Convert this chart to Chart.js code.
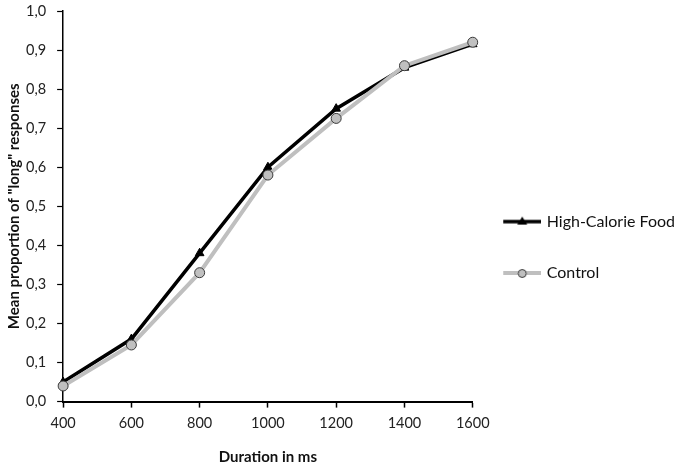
<!DOCTYPE html>
<html>
<head>
<meta charset="utf-8">
<script src="https://cdn.jsdelivr.net/npm/chart.js@4/dist/chart.umd.min.js"></script>
<style>
  html, body { margin: 0; padding: 0; background: #fff; }
  #wrap { width: 685px; height: 472px; }
</style>
</head>
<body>
<div id="wrap"><canvas id="myChart" width="685" height="472"></canvas></div>
<script>
// durations (ms)
const durations = ['400', '600', '800', '1000', '1200', '1400', '1600'];
// mean proportion of "long" responses
const highCalorie = [0.05, 0.16, 0.38, 0.60, 0.75, 0.855, 0.915];
const control = [0.04, 0.145, 0.33, 0.58, 0.725, 0.86, 0.92];

const FONT = 'Lato, "Open Sans", sans-serif';

// legend samples: line + marker, drawn once on small canvases
function legendSample(kind) {
    const c = document.createElement('canvas');
    c.width = 50;
    c.height = 14;
    const g = c.getContext('2d');
    g.lineCap = 'butt';
    if (kind === 'hcf') {
        g.strokeStyle = '#000';
        g.lineWidth = 3.5;
        g.beginPath(); g.moveTo(12, 7); g.lineTo(50, 7); g.stroke();
        g.fillStyle = '#000';
        g.beginPath(); g.moveTo(31, 2); g.lineTo(36, 10); g.lineTo(26, 10); g.closePath(); g.fill();
    } else {
        g.strokeStyle = '#bfbfbf';
        g.lineWidth = 4;
        g.beginPath(); g.moveTo(12, 7); g.lineTo(50, 7); g.stroke();
        g.fillStyle = '#bfbfbf';
        g.strokeStyle = '#404040';
        g.lineWidth = 1;
        g.beginPath(); g.arc(31, 7.5, 4, 0, Math.PI * 2); g.fill(); g.stroke();
    }
    return c;
}

const ctx = document.getElementById('myChart').getContext('2d');
const chart = new Chart(ctx, {
    type: 'line',
    data: {
        labels: durations,
        datasets: [
            {
                label: 'High-Calorie Food',
                data: highCalorie,
                borderColor: '#000',
                backgroundColor: '#000',
                borderWidth: 3.5,
                pointStyle: 'triangle',
                pointRadius: 5,
                pointBackgroundColor: '#000',
                pointBorderColor: '#000',
                pointBorderWidth: 1,
                tension: 0,
                order: 1
            },
            {
                label: 'Control',
                data: control,
                borderColor: '#bfbfbf',
                backgroundColor: '#bfbfbf',
                borderWidth: 4,
                pointStyle: 'circle',
                pointRadius: 5,
                pointBackgroundColor: '#c0c0c0',
                pointBorderColor: '#3a3a3a',
                pointBorderWidth: 1,
                tension: 0,
                order: 0
            }
        ]
    },
    options: {
        responsive: false,
        animation: false,
        layout: { autoPadding: false, padding: { top: 11, bottom: 6, left: 5, right: 0 } },
        scales: {
            x: {
                offset: false,
                grid: { display: true, drawOnChartArea: false, tickLength: 6, color: '#000', tickWidth: 1.5 },
                border: { display: true, color: '#000', width: 2 },
                ticks: { color: '#222', padding: 7, font: { family: FONT, size: 14.5 }, maxRotation: 0 },
                title: {
                    display: true,
                    text: 'Duration in ms',
                    color: '#111',
                    font: { family: FONT, size: 15, weight: 'bold' },
                    padding: { top: 9, bottom: 0 }
                }
            },
            y: {
                min: 0,
                max: 1,
                afterFit: s => { s.width -= 8; s.paddingTop = 0; },
                grid: { display: true, drawOnChartArea: false, tickLength: 6, color: '#000', tickWidth: 1.2 },
                border: { display: true, color: '#000', width: 1.5 },
                ticks: {
                    stepSize: 0.1,
                    color: '#222',
                    padding: 11,
                    font: { family: FONT, size: 14.5 },
                    callback: v => v.toFixed(1).replace('.', ',')
                },
                title: {
                    display: true,
                    text: 'Mean proportion of "long" responses',
                    color: '#111',
                    font: { family: FONT, size: 15, weight: 'bold' },
                    padding: { top: 0, bottom: 0 }
                }
            }
        },
        plugins: {
            legend: {
                position: 'right',
                align: 'center',
                maxWidth: 260,
                title: { display: true, text: '', font: { size: 10 }, padding: { top: 10, bottom: 10 } },
                labels: {
                    usePointStyle: true,
                    pointStyleWidth: 45,
                    boxHeight: 14,
                    padding: 21,
                    color: '#111',
                    font: { family: FONT, size: 16, lineHeight: 1.9 },
                    sort: (a, b) => a.datasetIndex - b.datasetIndex,
                    generateLabels: c => c.data.datasets.map((ds, i) => ({
                        text: [ds.label],
                        datasetIndex: i,
                        pointStyle: legendSample(i === 0 ? 'hcf' : 'ctrl'),
                        fillStyle: ds.borderColor,
                        strokeStyle: ds.borderColor,
                        lineWidth: 0,
                        fontColor: '#111',
                        hidden: false
                    }))
                }
            },
            tooltip: { enabled: false }
        }
    }
});
</script>
</body>
</html>
